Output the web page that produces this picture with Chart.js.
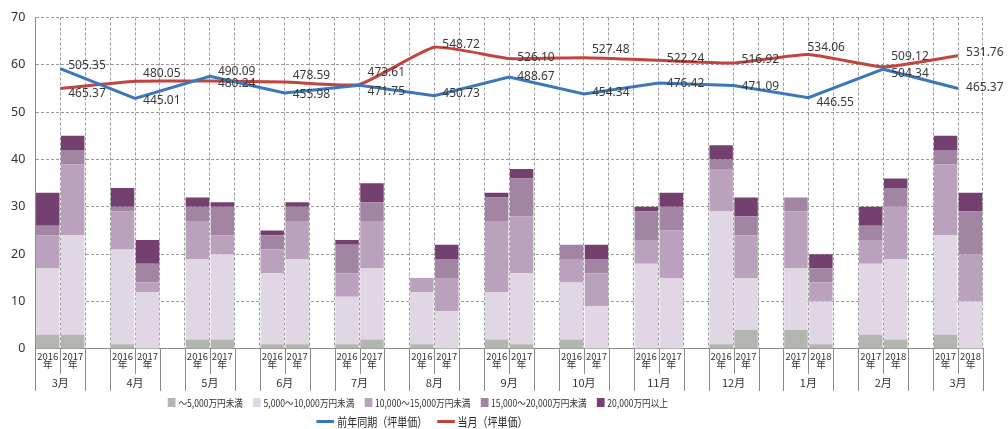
<!DOCTYPE html>
<html>
<head>
<meta charset="utf-8">
<script src="https://cdn.jsdelivr.net/npm/chart.js@4.4.1/dist/chart.umd.min.js"></script>
<style>
  html, body { margin: 0; padding: 0; background: #fff; }
  #wrap { position: relative; width: 1008px; height: 429px; }
  #legend { position: absolute; left: 0; top: 394px; width: 836px; font-family: 'Noto Sans CJK JP', 'Noto Sans', sans-serif; color: #333; }
  .row { display: flex; justify-content: center; align-items: center; white-space: nowrap; }
  .row1 { font-size: 10px; height: 17px; transform: scaleX(0.86); }
  .row2 { font-size: 12.5px; height: 20px; transform: translateX(4px) scaleX(0.8); color: #2a2a2a; }
  .item { display: flex; align-items: center; margin: 0 6px; }
  .box { width: 9px; height: 9px; margin-right: 3px; }
  .ln { width: 22px; height: 3px; margin-right: 4px; }
</style>
</head>
<body>
<div id="wrap">
  <canvas id="chart"></canvas>
  <div id="legend"></div>
</div>
<script>
// 月ごとのグループ
const months = ['3月', '4月', '5月', '6月', '7月', '8月', '9月', '10月', '11月', '12月', '1月', '2月', '3月'];
const yearFirst = ['2016', '2016', '2016', '2016', '2016', '2016', '2016', '2016', '2016', '2016', '2017', '2017', '2017'];
const yearSecond = ['2017', '2017', '2017', '2017', '2017', '2017', '2017', '2017', '2017', '2017', '2018', '2018', '2018'];

// 価格帯別の件数 (各月: 前年, 当年)
const under5k  = [3, 3, 1, 0, 2, 2, 1, 1, 1, 2, 1, 0, 2, 1, 2, 0, 0, 0, 1, 4, 4, 1, 3, 2, 3, 0];
const k5to10k  = [14, 21, 20, 12, 17, 18, 15, 18, 10, 15, 11, 8, 10, 15, 12, 9, 18, 15, 28, 11, 13, 9, 15, 17, 21, 10];
const k10to15k = [7, 15, 8, 2, 8, 4, 5, 8, 5, 10, 3, 7, 15, 12, 5, 7, 5, 10, 9, 9, 12, 4, 5, 11, 15, 10];
const k15to20k = [2, 3, 1, 4, 3, 6, 3, 3, 6, 4, 0, 4, 5, 8, 3, 3, 6, 5, 2, 4, 3, 3, 3, 4, 3, 9];
const over20k  = [7, 3, 4, 5, 2, 1, 1, 1, 1, 4, 0, 3, 1, 2, 0, 3, 1, 3, 3, 4, 0, 3, 4, 2, 3, 4];

// 坪単価
const prevYear = [505.35, 445.01, 490.09, 455.98, 471.75, 450.73, 488.67, 454.34, 476.42, 471.09, 446.55, 504.34, 465.37];
const thisMonth = [465.37, 480.05, 480.24, 478.59, 473.61, 548.72, 526.10, 527.48, 522.24, 516.92, 534.06, 509.12, 531.76];

// ラベルのずらし量 (px)
const prevLabelDy = [-3, 2, -5, 2, 6, -2, 0, -1, 1, 1, 5, 4, -1];
const thisLabelDy = [5, -8, 2, -6, -12, -3, -1, -8, -2, -3, -7, -10, -3];
const thisLabelDx = [8, 8, 8, 8, 8, 8, 8, 8, 8, 8, -1, 8, 8];

const colors = ['#b3b5b1', '#e1d6e3', '#baa1bc', '#a284a3', '#74406f'];
const blue = '#3c78b9';
const red = '#c1443f';

// 2本ずつ + 空き1枠
function withGaps(arr) {
  const out = [];
  for (let g = 0; g < months.length; g++) {
    out.push(arr[g * 2], arr[g * 2 + 1]);
    if (g < months.length - 1) out.push(null);
  }
  return out;
}

const slotLabels = [];
months.forEach((m, g) => {
  slotLabels.push([yearFirst[g], '年'], [yearSecond[g], '年']);
  if (g < months.length - 1) slotLabels.push('');
});

const groupPos = months.map((m, g) => g * 3 + 0.5);

const barSets = [
  { label: '～5,000万円未満', data: under5k },
  { label: '5,000～10,000万円未満', data: k5to10k },
  { label: '10,000～15,000万円未満', data: k10to15k },
  { label: '15,000～20,000万円未満', data: k15to20k },
  { label: '20,000万円以上', data: over20k }
].map((d, i) => ({
  type: 'bar',
  label: d.label,
  data: withGaps(d.data),
  backgroundColor: colors[i],
  borderWidth: 0,
  stack: 'count',
  grouped: false,
  barPercentage: 0.94,
  categoryPercentage: 1,
  xAxisID: 'x',
  yAxisID: 'y',
  order: 2
}));

const lineSets = [
  { label: '前年同期（坪単価）', data: prevYear, color: blue, tension: 0, dy: prevLabelDy, dx: null },
  { label: '当月（坪単価）', data: thisMonth, color: red, tension: 0.15, dy: thisLabelDy, dx: thisLabelDx }
].map(d => ({
  type: 'line',
  label: d.label,
  data: d.data.map((v, i) => ({ x: groupPos[i], y: v })),
  borderColor: d.color,
  backgroundColor: d.color,
  borderWidth: 3,
  pointRadius: 0,
  tension: d.tension,
  xAxisID: 'x2',
  yAxisID: 'y2',
  order: 1,
  labelDy: d.dy,
  labelDx: d.dx
}));

const valueLabels = {
  id: 'valueLabels',
  afterDatasetsDraw(chart) {
    const ctx = chart.ctx;
    ctx.save();
    ctx.font = "12px 'Noto Sans', sans-serif";
    ctx.fillStyle = '#3a3a3a';
    ctx.textBaseline = 'middle';
    ctx.textAlign = 'left';
    chart.data.datasets.forEach((ds, di) => {
      if (ds.type !== 'line') return;
      const meta = chart.getDatasetMeta(di);
      meta.data.forEach((pt, i) => {
        const dx = ds.labelDx ? ds.labelDx[i] : 8;
        ctx.fillText(ds.data[i].y.toFixed(2), pt.x + dx, pt.y + ds.labelDy[i]);
      });
    });
    ctx.restore();
  }
};

const bottomAxis = {
  id: 'bottomAxis',
  afterDraw(chart) {
    const ctx = chart.ctx;
    const x = chart.scales.x;
    const bottom = chart.chartArea.bottom;
    const w = (x.right - x.left) / slotLabels.length;
    ctx.save();
    ctx.strokeStyle = '#8a8a8a';
    ctx.lineWidth = 1;
    ctx.beginPath();
    months.forEach((m, g) => {
      const left = Math.round(x.left + g * 3 * w) + 0.5;
      const mid = Math.round(x.left + (g * 3 + 1) * w) + 0.5;
      const right = Math.round(x.left + (g * 3 + 2) * w) + 0.5;
      ctx.moveTo(left, bottom); ctx.lineTo(left, bottom + 42);
      ctx.moveTo(right, bottom); ctx.lineTo(right, bottom + 42);
      ctx.moveTo(mid, bottom); ctx.lineTo(mid, bottom + 25);
    });
    ctx.stroke();
    ctx.fillStyle = '#333';
    ctx.font = "11px 'Noto Sans CJK JP', sans-serif";
    ctx.textAlign = 'center';
    ctx.textBaseline = 'middle';
    months.forEach((m, g) => {
      ctx.fillText(m, x.left + (g * 3 + 1) * w, bottom + 34);
    });
    ctx.restore();
  }
};

Chart.defaults.font.family = "'Noto Sans', 'Noto Sans CJK JP', sans-serif";

new Chart(document.getElementById('chart'), {
  data: {
    labels: slotLabels,
    datasets: [...barSets, ...lineSets]
  },
  options: {
    responsive: true,
    maintainAspectRatio: false,
    animation: false,
    layout: { padding: { left: 1, right: 25, top: 10, bottom: 57 } },
    plugins: {
      legend: { display: false },
      tooltip: { enabled: false }
    },
    scales: {
      x: {
        type: 'category',
        stacked: true,
        offset: true,
        z: 1,
        grid: { offset: true, color: '#9a9a9a', lineWidth: 1, drawTicks: false },
        border: { display: true, color: '#8a8a8a', dash: [3, 2] },
        ticks: {
          autoSkip: false,
          maxRotation: 0,
          padding: 3,
          color: '#333',
          font: { size: 9.5, lineHeight: 0.9, family: "'Noto Sans CJK JP', sans-serif" }
        }
      },
      x2: {
        type: 'linear',
        display: false,
        min: -0.5,
        max: slotLabels.length - 0.5
      },
      y: {
        stacked: true,
        min: 0,
        max: 70,
        grid: { color: '#9a9a9a', lineWidth: 1, drawTicks: false },
        border: { display: true, color: '#8a8a8a', dash: [3, 2] },
        ticks: { stepSize: 10, padding: 10, color: '#333', font: { size: 12.5 } }
      },
      y2: {
        display: false,
        min: -62,
        max: 609
      }
    }
  },
  plugins: [valueLabels, bottomAxis]
});

// 凡例
const legend = document.getElementById('legend');
const r1 = document.createElement('div');
r1.className = 'row row1';
barSets.forEach(ds => {
  r1.innerHTML += `<span class="item"><span class="box" style="background:${ds.backgroundColor}"></span>${ds.label}</span>`;
});
const r2 = document.createElement('div');
r2.className = 'row row2';
lineSets.forEach(ds => {
  r2.innerHTML += `<span class="item"><span class="ln" style="background:${ds.borderColor}"></span>${ds.label}</span>`;
});
legend.appendChild(r1);
legend.appendChild(r2);
</script>
</body>
</html>
